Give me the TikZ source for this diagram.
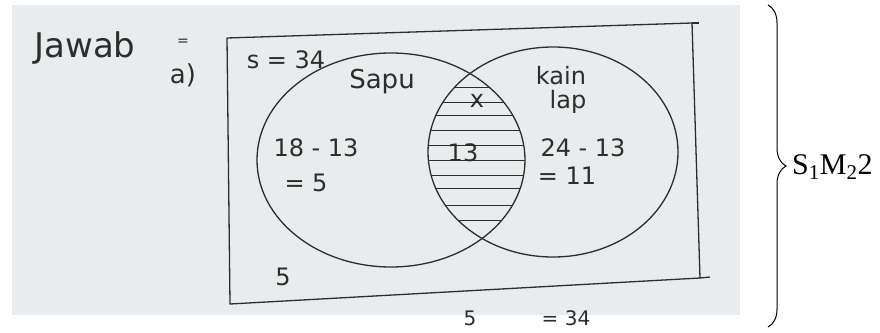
\documentclass[tikz,border=0pt]{standalone}
\usepackage{fontspec}
\setmainfont{Liberation Serif}
\newfontfamily\handfont{DejaVu Sans}
\usetikzlibrary{decorations.pathreplacing, positioning}
\definecolor{paper}{RGB}{232,236,236}
\definecolor{pencil}{RGB}{45,45,45}
\tikzset{
  ink/.style={draw=pencil, line width=1.3pt, line join=round},
  hand/.style={text=pencil, inner sep=0pt, font=\handfont\fontsize{#1}{#1}\selectfont},
  hand/.default=24,
  hatch/.style={draw=pencil, line width=0.9pt},
}
\begin{document}
\begin{tikzpicture}[x=1pt, y=-1pt]
    \useasboundingbox (0,0) rectangle (880,332);
    % photo of the answer
    \fill[paper] (12,5) rectangle (740,315);
    \begin{scope}
      \clip (12,5) rectangle (740,315);
      % universal set
      \draw[ink] (227,38) -- (692,23) -- (700,278) -- (230,304) -- cycle;
      \draw[ink] (692,23) -- (699,23);
      \draw[ink] (700,278) -- (710,277);
      % the two sets
      \draw[ink] (391,160) ellipse [x radius=134, y radius=107];
      \draw[ink] (553,152) ellipse [x radius=125, y radius=105];
      % shaded intersection
      \begin{scope}
        \clip (391,160) ellipse [x radius=134, y radius=107];
        \clip (553,152) ellipse [x radius=125, y radius=105];
        \foreach \yy in {87,102,115,130,145,160,175,188,205,220}
          \draw[hatch] (420,\yy) -- (540,\yy);
      \end{scope}
      \node[hand=34] (jawab) at (85,48) {Jawab};
      \node[hand=14] (eq) at (183,42) {=};
      \node[hand=26] (parta) at (183,75) {a)};
      \node[hand] (semesta) at (286,60) {s = 34};
      \node[hand=26] (sapu) at (382,82) {Sapu};
      \node[hand] (kain) at (561,76) {kain};
      \node[hand] (lap) at (568,102) {lap};
      \node[hand=24] (x) at (477,101) {x};
      \node[hand] (both) at (463,153) {13};
      \node[hand] (sapucalc) at (316,148) {18 - 13};
      \node[hand] (sapuval) at (306,183) {= 5};
      \node[hand] (kaincalc) at (583,148) {24 - 13};
      \node[hand] (kainval) at (567,176) {= 11};
      \node[hand] (none) at (283,277) {5};
    \end{scope}
    \node[hand=20] (sumfive) at (470,318) {5};
    \node[hand=20] (sumtotal) at (566,318) {= 34};
    % score
    \coordinate (bracetop) at (768,5);
    \coordinate (bracebot) at (768,327);
    \draw[line width=1pt, decorate, decoration={brace, amplitude=18pt}] (bracetop) -- (bracebot);
    \node[right, inner sep=0pt, font=\fontsize{30}{30}\selectfont] (score) at (792,167) {S\textsubscript{1}M\textsubscript{2}2};
\end{tikzpicture}
\end{document}
